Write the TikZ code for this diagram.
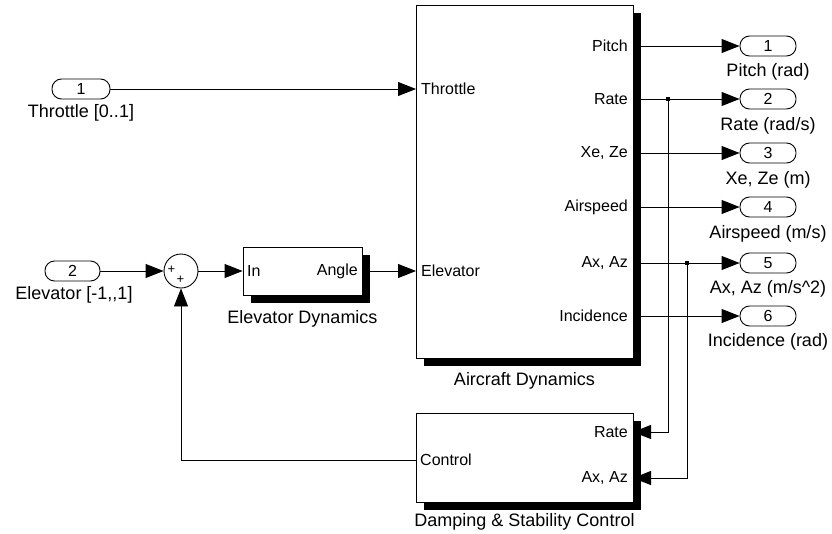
\documentclass[tikz,border=0pt]{standalone}
\usepackage{fontspec}
\setmainfont{Liberation Sans}
\usetikzlibrary{arrows.meta,shadows}
\begin{document}
\begin{tikzpicture}[x=1pt,y=-1pt,
  blk/.style={draw, line width=0.9pt, fill=white, inner sep=0pt,
    drop shadow={shadow xshift=8pt, shadow yshift=-8pt, fill=black, opacity=1}},
  port/.style={draw, line width=0.9pt, rounded corners=9.5pt, minimum width=56pt,
    minimum height=20pt, inner sep=0pt, font=\fontsize{16}{16}\selectfont},
  lbl/.style={font=\fontsize{18}{18}\selectfont, inner sep=0pt},
  plbl/.style={font=\fontsize{16}{16}\selectfont, inner sep=0pt},
  sumc/.style={draw, circle, line width=0.9pt, minimum size=34pt, inner sep=0pt},
  plus/.style={font=\fontsize{13}{13}\selectfont, inner sep=0pt},
  sig/.style={line width=0.9pt, -{Triangle[length=18pt,width=14pt]}},
  bdot/.style={fill=black, minimum size=4.5pt, inner sep=0pt}
]
\useasboundingbox (0,0) rectangle (832,533);

% blocks
\node[blk, minimum width=217pt, minimum height=353pt] (ad) at (524.5,181.5) {};
\node[blk, minimum width=119pt, minimum height=48pt] (ed) at (302.5,271) {};
\node[blk, minimum width=217pt, minimum height=89pt] (dsc) at (524.5,457.5) {};

% block labels
\node[lbl] (adl) at (524.5,381) {Aircraft Dynamics};
\node[lbl] (edl) at (302.5,319) {Elevator Dynamics};
\node[lbl] (dscl) at (524.5,522) {Damping \& Stability Control};

% port coordinates on blocks
\coordinate (adthr) at (416,89);
\coordinate (adelev) at (416,271);
\coordinate (adp1) at (633,46);
\coordinate (adp2) at (633,99);
\coordinate (adp3) at (633,153);
\coordinate (adp4) at (633,207);
\coordinate (adp5) at (633,263);
\coordinate (adp6) at (633,316);
\coordinate (dscr) at (633,432);
\coordinate (dscax) at (633,478);
\coordinate (dscc) at (416,460);

% inner port labels
\node[plbl, anchor=west] (tthr) at (421,89) {Throttle};
\node[plbl, anchor=west] (telev) at (421,271) {Elevator};
\node[plbl, anchor=east] (tp1) at (628,46) {Pitch};
\node[plbl, anchor=east] (tp2) at (628,99) {Rate};
\node[plbl, anchor=east] (tp3) at (628,153) {Xe, Ze};
\node[plbl, anchor=east] (tp4) at (628,207) {Airspeed};
\node[plbl, anchor=east] (tp5) at (628,263) {Ax, Az};
\node[plbl, anchor=east] (tp6) at (628,316) {Incidence};
\node[plbl, anchor=west] (tin) at (247,271) {In};
\node[plbl, anchor=east] (tang) at (358,271) {Angle};
\node[plbl, anchor=west] (tctl) at (420,460) {Control};
\node[plbl, anchor=east] (tdr) at (628,432) {Rate};
\node[plbl, anchor=east] (tdax) at (628,478) {Ax, Az};

% input ports
\node[port, minimum width=58pt] (in1) at (81,89) {1};
\node[lbl] (in1l) at (81,113) {Throttle [0..1]};
\node[port, minimum width=55pt] (in2) at (72.5,271) {2};
\node[lbl] (in2l) at (74,295) {Elevator [-1,\kern0pt,1]};

% sum
\node[sumc] (sum) at (181,271) {};
\node[plus] (pl1) at (171.5,270) {+};
\node[plus] (pl2) at (180.5,280) {+};

% output ports
\node[port] (o1) at (768,46) {1};
\node[port] (o2) at (768,99) {2};
\node[port] (o3) at (768,153) {3};
\node[port] (o4) at (768,207) {4};
\node[port] (o5) at (768,263) {5};
\node[port] (o6) at (768,316) {6};
\node[lbl] (o1l) at (768,72) {Pitch (rad)};
\node[lbl] (o2l) at (768,126) {Rate (rad/s)};
\node[lbl] (o3l) at (768,180) {Xe, Ze (m)};
\node[lbl] (o4l) at (768,234) {Airspeed (m/s)};
\node[lbl] (o5l) at (768,289) {Ax, Az (m/s\^{}2)};
\node[lbl] (o6l) at (768,342) {Incidence (rad)};

% connections
\draw[sig] (in1.east) -- (adthr);
\draw[sig] (in2.east) -- (sum.west);
\draw[sig] (sum.east) -- (ed.west);
\draw[sig] (ed.east) -- (adelev);
\draw[sig] (adp1) -- (o1.west);
\draw[sig] (adp2) -- (o2.west);
\draw[sig] (adp3) -- (o3.west);
\draw[sig] (adp4) -- (o4.west);
\draw[sig] (adp5) -- (o5.west);
\draw[sig] (adp6) -- (o6.west);

% branches
\node[bdot] (b1) at (668,99) {};
\node[bdot] (b2) at (687,263) {};
\draw[sig] (b1.center) |- (dscr);
\draw[sig] (b2.center) |- (dscax);

% feedback
\draw[sig] (dscc) -| (sum.south);
\end{tikzpicture}
\end{document}
